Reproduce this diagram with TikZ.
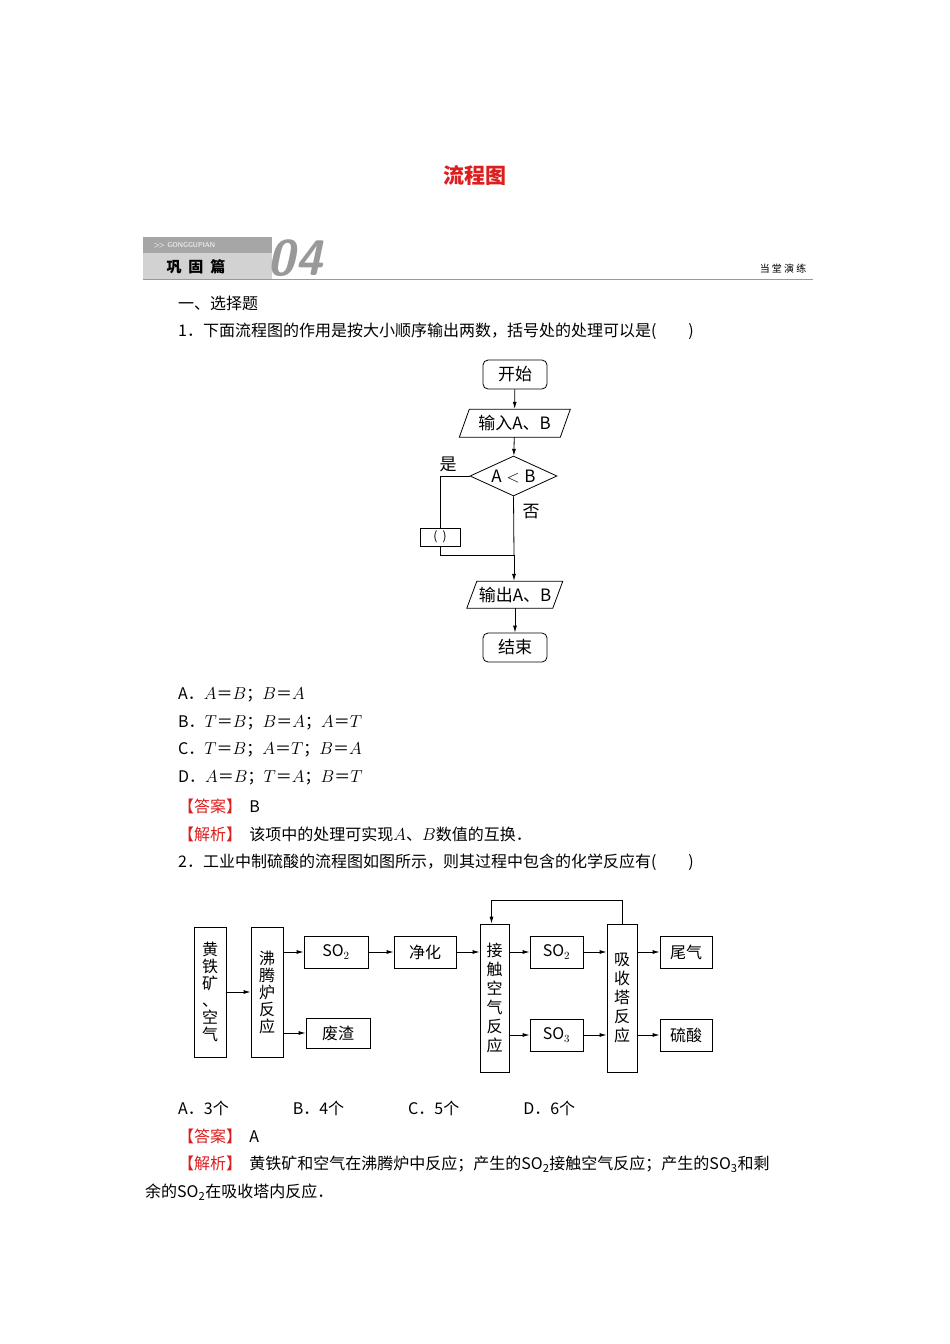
\documentclass[tikz,border=0pt]{standalone}
\usepackage{fontspec}
\setmainfont{Noto Sans CJK SC}
\usetikzlibrary{shapes.geometric,arrows.meta}
\tikzset{
 txt/.style={anchor=west,inner sep=0pt,font=\fontsize{16}{16}\selectfont},
 bx/.style={draw,thick,inner sep=0pt,font=\fontsize{16}{16}\selectfont},
 ar/.style={-{Latex[length=7pt,width=4pt]},thick},
 ln/.style={thick},
}
\definecolor{rd}{RGB}{220,30,30}
\begin{document}
\begin{tikzpicture}[x=1pt,y=-1pt]
\useasboundingbox (0,0) rectangle (950,1344);
\node[font=\fontsize{21}{21}\selectfont\bfseries,text=rd] (title) at (475,175) {流程图};
% banner
\fill[gray!70] (143,237) rectangle (272,253);
\fill[gray!35] (143,253) rectangle (272,279);
\node[anchor=west,text=white,font=\fontsize{7}{7}\selectfont\sffamily] (gg) at (150,245) {\textbf{>\!>} GONGGUPIAN};
\node[anchor=west,font=\fontsize{15}{15}\selectfont\bfseries] (gg2) at (163,267) {巩\ \ 固\ \ 篇};
\node[font=\fontsize{50}{50}\selectfont\bfseries\sffamily\itshape,text=gray!80] (n04) at (295,258) {04};
\draw[gray!80,thick] (143,279.5) -- (813,279.5);
\node[anchor=east,font=\fontsize{10}{10}\selectfont] (dt) at (810,269) {当\ 堂\ 演\ 练};
% text
\node[txt] (t1) at (178,303) {一、选择题};
\node[txt] (t2) at (178,331) {1．下面流程图的作用是按大小顺序输出两数，括号处的处理可以是(\hspace{2em})};
\node[txt] (oa) at (178,695) {A．$A$＝$B$；$B$＝$A$};
\node[txt] (ob) at (178,723) {B．$T$＝$B$；$B$＝$A$；$A$＝$T$};
\node[txt] (oc) at (178,750) {C．$T$＝$B$；$A$＝$T$；$B$＝$A$};
\node[txt] (od) at (178,778) {D．$A$＝$B$；$T$＝$A$；$B$＝$T$};
\node[txt] (a1) at (178,806) {\textcolor{rd}{【答案】}\ \ B};
\node[txt] (j1) at (178,834) {\textcolor{rd}{【解析】}\ \ 该项中的处理可实现$A$、$B$数值的互换．};
\node[txt] (t3) at (178,862) {2．工业中制硫酸的流程图如图所示，则其过程中包含的化学反应有(\hspace{2em})};
\node[txt] (o2) at (178,1108) {A．3个\hspace{4em}B．4个\hspace{4em}C．5个\hspace{4em}D．6个};
\node[txt] (a2) at (178,1136) {\textcolor{rd}{【答案】}\ \ A};
\node[txt] (j2) at (178,1164) {\textcolor{rd}{【解析】}\ \ 黄铁矿和空气在沸腾炉中反应；产生的SO\textsubscript{2}接触空气反应；产生的SO\textsubscript{3}和剩};
\node[txt] (j3) at (145,1192) {余的SO\textsubscript{2}在吸收塔内反应．};
% flowchart 1
\node[bx,rounded corners=5pt,minimum width=64,minimum height=29,font=\fontsize{17}{17}\selectfont] (st) at (515,374.5) {开始};
\node[inner sep=0pt,minimum width=100,minimum height=28,font=\fontsize{17}{17}\selectfont] (in) at (514.5,423) {输入$\mathbf{\mathit{A}}$、$\mathbf{\mathit{B}}$};
\draw[thick] (in.south west) ++(-5,0) -- ++(10,-28) -- ++(101,0) -- ++(-10,28) -- cycle;
\node[bx,diamond,aspect=2.2,minimum width=87,minimum height=40,font=\fontsize{17}{17}\selectfont] (dm) at (513.5,476) {$\mathbf{\mathit{A<B}}$};
\node[draw,thick,minimum width=40,minimum height=18,inner sep=0pt,font=\fontsize{12}{12}\selectfont] (pb) at (440,537) {(\ \ )};
\node[inner sep=0pt,minimum width=86,minimum height=27,font=\fontsize{17}{17}\selectfont] (out) at (515,594.5) {输出A、B};
\draw[thick] (out.south west) ++(-5,0) -- ++(10,-27) -- ++(86,0) -- ++(-10,27) -- cycle;
\node[bx,rounded corners=5pt,minimum width=64,minimum height=29,font=\fontsize{17}{17}\selectfont] (en) at (515,647.5) {结束};
\node[font=\fontsize{17}{17}\selectfont] (yes) at (448,464) {是};
\node[font=\fontsize{17}{17}\selectfont] (no) at (531,512) {否};
\coordinate (m) at (514,555);
\draw[ar] (st) -- (in);
\draw[ar] (in) -- (dm);
\draw[ln] (dm.west) -| (pb.north);
\draw[ln] (pb.south) |- (m);
\draw[ln] (dm.south) -- (m);
\draw[ar] (m) -- (out.north -| m);
\draw[ar] (out) -- (en);
% flowchart 2
\node[bx,minimum width=32,minimum height=130,align=center,font=\fontsize{16}{17}\selectfont] (hk) at (210,992) {黄\\铁\\矿\\、\\空\\气};
\node[bx,minimum width=32,minimum height=130,align=center,font=\fontsize{16}{17}\selectfont] (ft) at (267,992) {沸\\腾\\炉\\反\\应};
\node[bx,minimum width=64,minimum height=32] (so2a) at (336,952) {SO$_2$};
\node[bx,minimum width=64,minimum height=30] (fz) at (338,1033) {废渣};
\node[bx,minimum width=62,minimum height=32] (jh) at (425,952) {净化};
\node[bx,minimum width=29,minimum height=148,align=center,font=\fontsize{16}{19}\selectfont] (jc) at (494.5,998) {接\\触\\空\\气\\反\\应};
\node[bx,minimum width=53,minimum height=32] (so2b) at (556.5,952) {SO$_2$};
\node[bx,minimum width=53,minimum height=32] (so3) at (556.5,1035) {SO$_3$};
\node[bx,minimum width=30,minimum height=148,align=center,font=\fontsize{16}{19}\selectfont] (xs) at (622,998) {吸\\收\\塔\\反\\应};
\node[bx,minimum width=52,minimum height=32] (wq) at (686,952) {尾气};
\node[bx,minimum width=52,minimum height=32] (ls) at (686,1035) {硫酸};
\draw[ar] (hk) -- (ft);
\draw[ar] (ft.east |- so2a) -- (so2a);
\draw[ar] (ft.east |- fz) -- (fz);
\draw[ar] (so2a) -- (jh);
\draw[ar] (jh) -- (jh -| jc.west);
\draw[ar] (jc.east |- so2b) -- (so2b);
\draw[ar] (jc.east |- so3) -- (so3);
\draw[ar] (so2b) -- (so2b -| xs.west);
\draw[ar] (so3) -- (so3 -| xs.west);
\draw[ar] (xs.east |- wq) -- (wq);
\draw[ar] (xs.east |- ls) -- (ls);
\coordinate (fb) at (622,900);
\draw[ar] (xs.north) -- (fb) -| ([xshift=-3pt]jc.north);
\end{tikzpicture}
\end{document}
